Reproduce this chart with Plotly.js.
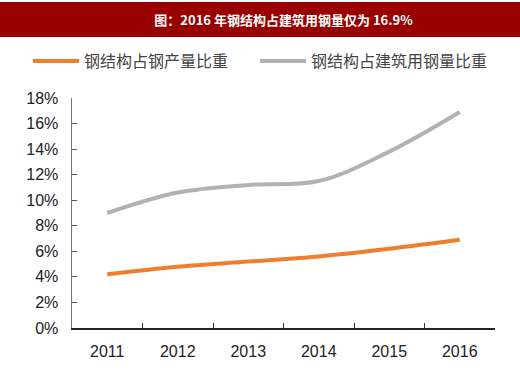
<!DOCTYPE html>
<html>
<head>
<meta charset="utf-8">
<script src="https://cdn.plot.ly/plotly-3.0.1.min.js"></script>
<style>html,body{margin:0;padding:0;background:#fff;}#chart{width:520px;height:380px;}</style>
</head>
<body>
<div id="chart"></div>
<script>
const years = ['2011', '2012', '2013', '2014', '2015', '2016'];
const shareOfSteelOutput = [4.2, 4.8, 5.2, 5.6, 6.2, 6.9];
const shareOfConstructionSteel = [9.0, 10.6, 11.2, 11.5, 13.8, 16.9];
const seriesNames = ['钢结构占钢产量比重', '钢结构占建筑用钢量比重'];
const yTicks = [0, 2, 4, 6, 8, 10, 12, 14, 16, 18];
const titleText = '图：2016 年钢结构占建筑用钢量仅为 16.9%';

const traces = [
  {x: years, y: shareOfSteelOutput, name: seriesNames[0], type: 'scatter', mode: 'lines', legend: 'legend',
   line: {color: '#F07F2D', width: 4, shape: 'spline', smoothing: 1}},
  {x: years, y: shareOfConstructionSteel, name: seriesNames[1], type: 'scatter', mode: 'lines', legend: 'legend2',
   line: {color: '#B2B2B2', width: 4, shape: 'spline', smoothing: 1}}
];

const legendFont = {family: 'Noto Sans CJK SC, sans-serif', size: 16, color: '#444444'};

const layout = {
  width: 520, height: 380,
  margin: {l: 72, r: 25, t: 98, b: 52},
  paper_bgcolor: '#ffffff', plot_bgcolor: '#ffffff',
  showlegend: true,
  title: {text: '<b>' + titleText + '</b>', x: 0.5, xanchor: 'center', xref: 'paper',
          y: 1 - 20/380, yanchor: 'middle', yref: 'container',
          font: {family: 'Noto Sans CJK SC, sans-serif', size: 13, color: '#ffffff'}},
  shapes: [{type: 'rect', xref: 'paper', yref: 'paper', x0: -0.2, x1: 1.1,
            y0: (328-37)/230, y1: (328-2)/230, fillcolor: '#990000', line: {width: 0}, layer: 'below'}],
  legend: {orientation: 'h', xref: 'container', x: 28/520, xanchor: 'left',
           yref: 'container', y: 1 - 44/380, yanchor: 'top', itemwidth: 46,
           font: legendFont, bgcolor: 'rgba(0,0,0,0)'},
  legend2: {orientation: 'h', xref: 'container', x: 255/520, xanchor: 'left',
           yref: 'container', y: 1 - 44/380, yanchor: 'top', itemwidth: 46,
           font: legendFont, bgcolor: 'rgba(0,0,0,0)'},
  xaxis: {type: 'category', range: [-0.5, 5.5], tickson: 'boundaries', ticks: 'inside', ticklen: 5,
          tickcolor: '#333333', tickwidth: 1, showline: true, linecolor: '#222222', linewidth: 1.5,
          showgrid: false, zeroline: false, ticklabelstandoff: 8,
          tickfont: {family: 'Liberation Sans, Arial, sans-serif', size: 16, color: '#222222'}},
  yaxis: {range: [0, 18], tickvals: yTicks, ticktext: yTicks.map(v => v + '%'), ticks: 'inside', ticklen: 5,
          tickcolor: '#555555', tickwidth: 1.2, showline: true, linecolor: '#777777', linewidth: 1.5,
          showgrid: false, zeroline: false, ticklabelstandoff: 9,
          tickfont: {family: 'Liberation Sans, Arial, sans-serif', size: 16, color: '#222222'}}
};

Plotly.newPlot('chart', traces, layout, {staticPlot: true, displayModeBar: false});
</script>
</body>
</html>
